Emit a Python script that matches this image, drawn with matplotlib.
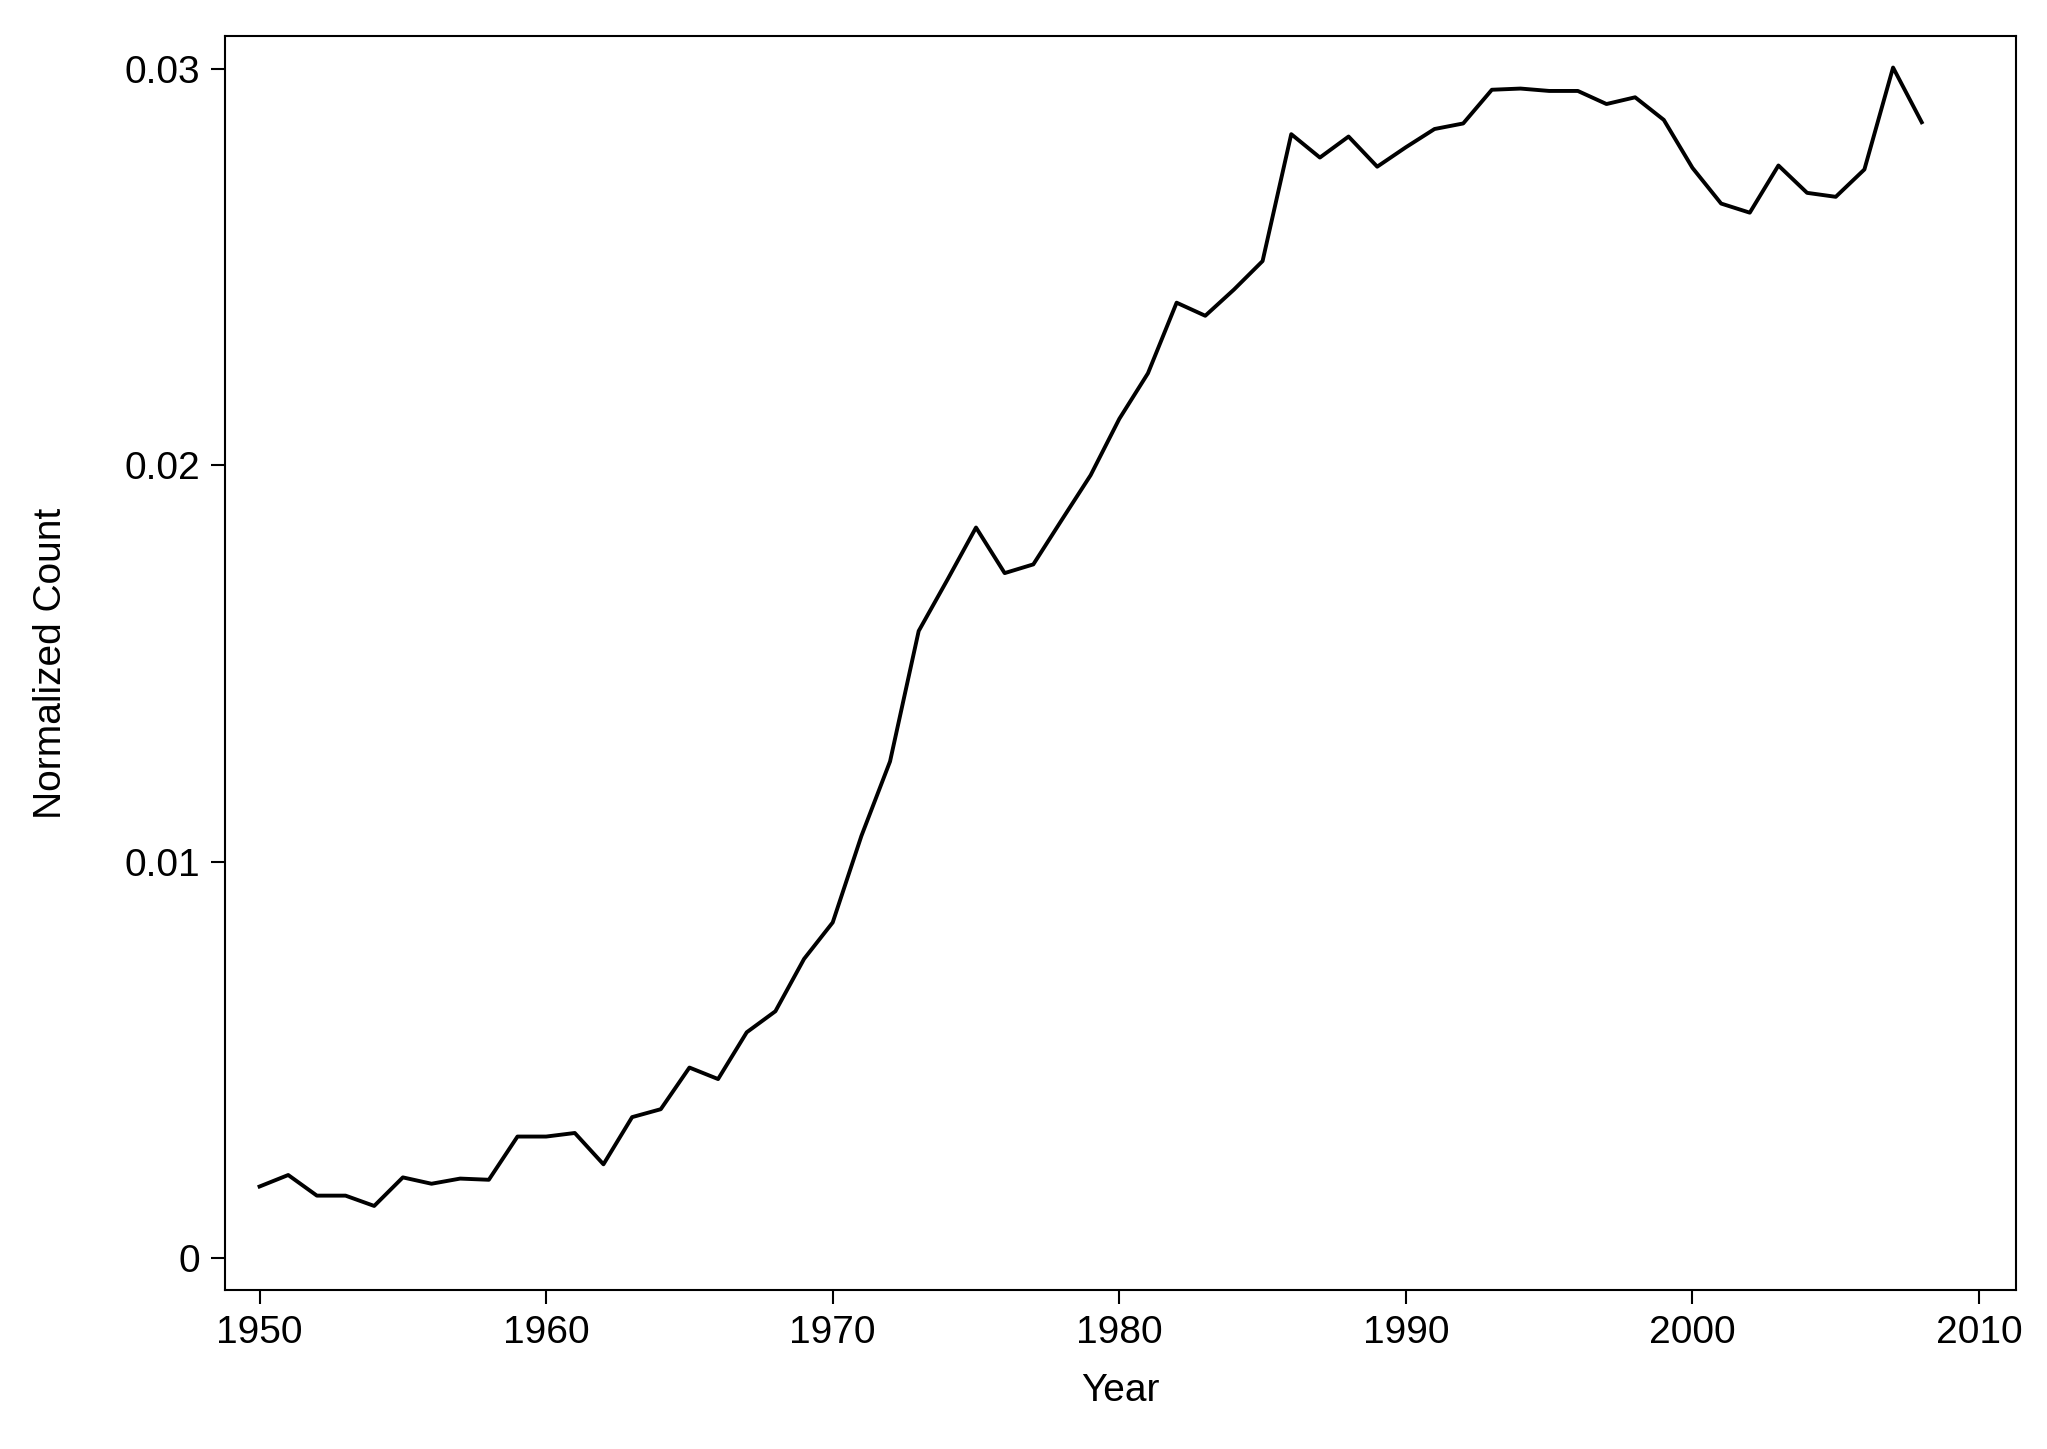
import matplotlib
matplotlib.use("Agg")
import matplotlib.pyplot as plt

years = list(range(1950, 2009))
values = [0.00181, 0.0021, 0.00158, 0.00158, 0.00132, 0.00204, 0.00188, 0.00201, 0.00198, 0.00307,
          0.00307, 0.00316, 0.00237, 0.00356, 0.00376, 0.00481, 0.00452, 0.0057, 0.00623, 0.00755,
          0.00847, 0.01065, 0.01253, 0.01582, 0.01711, 0.01843, 0.01728, 0.0175, 0.01863, 0.01975,
          0.02117, 0.02232, 0.0241, 0.02377, 0.02443, 0.02515, 0.02835, 0.02776, 0.02829, 0.02753,
          0.02802, 0.02848, 0.02862, 0.02947, 0.0295, 0.02944, 0.02944, 0.02911, 0.02928, 0.02871,
          0.0275, 0.0266, 0.02637, 0.02756, 0.02687, 0.02677, 0.02746, 0.03003, 0.02865]
xticks = [1950, 1960, 1970, 1980, 1990, 2000, 2010]
yticks = [0, 0.01, 0.02, 0.03]
ytick_labels = ["0", "0.01", "0.02", "0.03"]

plt.rcParams['font.family'] = ['Liberation Sans', 'DejaVu Sans']
fig = plt.figure(figsize=(20.47, 14.49), dpi=100)
ax = fig.add_axes([0.110, 0.110, 0.875, 0.865])
ax.plot(years, values, color='black', linewidth=2.8)
ax.set_xlim(1948.8, 2011.3)
ax.set_ylim(-0.00079, 0.03082)
ax.set_xticks(xticks)
ax.set_yticks(yticks)
ax.set_yticklabels(ytick_labels)
ax.tick_params(labelsize=28, length=10, width=1.5, pad=8)
for s in ax.spines.values():
    s.set_linewidth(1.5)
ax.set_xlabel("Year", fontsize=28, labelpad=16)
ax.set_ylabel("Normalized Count", fontsize=28, labelpad=40)
fig.savefig("out.png", dpi=100)
